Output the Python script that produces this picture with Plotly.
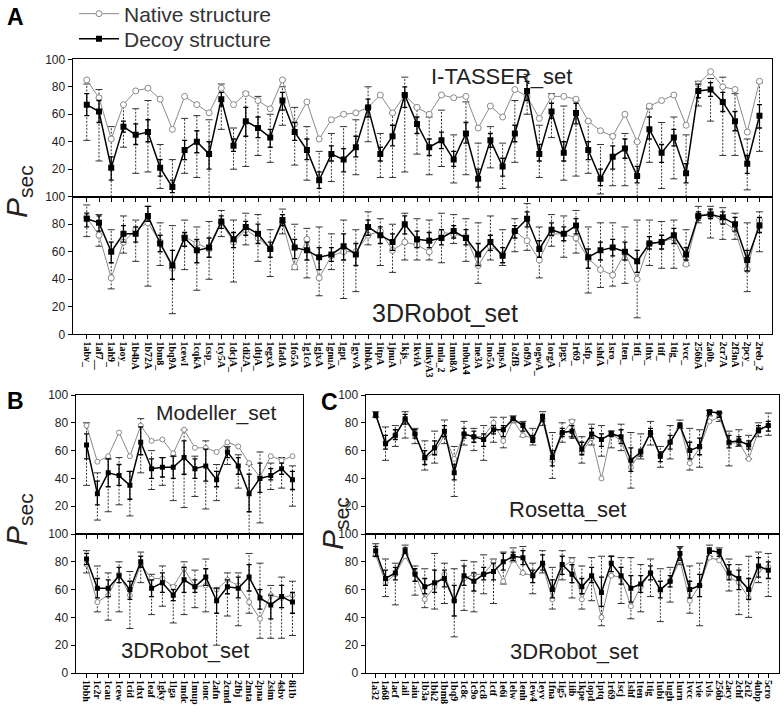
import plotly.graph_objects as go

W, H = 784, 712

# ---------------- panel A : I-TASSER / 3DRobot (56 proteins) ----------------
a_labels = ["1abv_", "1af7__", "1ah9_", "1aoy_", "1b4bA", "1b72A", "1bm8_", "1bq9A", "1cewI", "1cqkA",
            "1csp_", "1cy5A", "1dcjA_", "1di2A_", "1dtjA_", "1egxA", "1fadA", "1fo5A", "1g1cA", "1gjxA",
            "1gnuA", "1gpt_", "1gyvA", "1hbkA", "1itpA", "1jnuA", "1kjs_", "1kviA", "1mkyA3", "1mla_2",
            "1mn8A", "1n0uA4", "1ne3A", "1no5A", "1npsA", "1o2fB_", "1of9A", "1ogwA_", "1orgA", "1pgx_",
            "1r69_", "1sfp_", "1shfA", "1sro_", "1ten_", "1tfi_", "1thx_", "1tif_", "1tig_", "1vcc_",
            "256bA", "2a0b_", "2cr7A", "2f3nA", "2pcy_", "2reb_2"]

a_it_native = [85, 72, 42, 67, 77, 79, 71, 49, 73, 67, 61, 79, 67, 75, 70, 64, 85, 53, 69, 42,
               56, 60, 61, 65, 74, 61, 74, 65, 60, 74, 72, 73, 50, 66, 58, 78, 73, 57, 73, 73,
               71, 55, 48, 44, 60, 40, 66, 70, 74, 52, 82, 91, 80, 78, 47, 84]
a_it_decoy = [67, 62, 21, 51, 45, 47, 21, 7, 34, 40, 31, 71, 37, 55, 50, 43, 70, 47, 34, 12,
              31, 27, 36, 65, 31, 44, 74, 53, 36, 41, 27, 46, 13, 41, 22, 46, 77, 31, 62, 32,
              61, 34, 13, 29, 35, 15, 49, 32, 43, 17, 77, 78, 69, 55, 24, 59]
a_it_sd_lo = [59, 54, 12, 47, 38, 40, 15, 3, 27, 32, 20, 66, 33, 44, 43, 36, 63, 41, 27, 6,
              26, 18, 29, 58, 26, 37, 65, 46, 30, 35, 22, 39, 7, 36, 15, 40, 70, 26, 57, 26,
              53, 27, 8, 20, 28, 10, 42, 25, 37, 10, 72, 73, 62, 48, 17, 50]
a_it_sd_hi = [75, 70, 29, 55, 53, 56, 27, 12, 41, 48, 40, 76, 42, 65, 58, 49, 76, 54, 42, 18,
              37, 35, 44, 71, 36, 52, 80, 58, 42, 47, 33, 54, 20, 46, 28, 52, 84, 38, 68, 40,
              68, 40, 20, 37, 42, 22, 58, 38, 49, 24, 82, 83, 76, 62, 30, 67]
a_it_min = [41, 26, 0, 36, 17, 18, 6, 0, 17, 14, 0, 49, 20, 22, 30, 25, 52, 23, 12, 0,
            11, 0, 16, 40, 14, 14, 18, 31, 16, 22, 10, 16, 0, 21, 6, 25, 60, 14, 43, 12,
            15, 17, 2, 8, 8, 0, 25, 6, 13, 0, 66, 55, 30, 30, 5, 33]
a_it_max = [82, 78, 51, 67, 64, 70, 38, 27, 57, 59, 56, 82, 50, 76, 73, 60, 80, 65, 51, 33,
            46, 51, 56, 80, 46, 61, 87, 65, 58, 63, 45, 69, 39, 51, 39, 70, 89, 52, 75, 66,
            70, 55, 38, 45, 46, 40, 64, 54, 58, 45, 84, 86, 87, 75, 42, 83]

a_3d_native = [85, 72, 41, 67, 76, 81, 67, 48, 71, 66, 62, 81, 67, 76, 70, 62, 81, 49, 69, 41,
               57, 60, 60, 72, 75, 61, 67, 65, 60, 74, 73, 71, 50, 64, 58, 75, 68, 54, 73, 73,
               70, 55, 47, 43, 59, 40, 66, 67, 70, 51, 86, 88, 82, 76, 47, 83]
a_3d_decoy = [84, 81, 60, 73, 73, 86, 66, 50, 70, 61, 63, 82, 69, 78, 73, 62, 83, 63, 61, 56,
              58, 64, 58, 78, 72, 67, 80, 69, 68, 70, 75, 70, 58, 67, 57, 75, 84, 62, 76, 73,
              79, 56, 61, 63, 60, 53, 66, 67, 72, 58, 86, 87, 85, 80, 54, 79]
a_3d_sd_lo = [78, 75, 52, 67, 67, 82, 60, 40, 64, 52, 56, 77, 63, 72, 66, 56, 79, 55, 54, 47,
              53, 54, 50, 72, 66, 61, 73, 63, 63, 65, 70, 65, 50, 61, 52, 70, 78, 56, 72, 68,
              73, 48, 54, 57, 54, 45, 62, 62, 66, 54, 83, 84, 80, 75, 46, 74]
a_3d_sd_hi = [88, 86, 67, 79, 78, 93, 72, 61, 74, 69, 70, 86, 74, 82, 80, 67, 87, 69, 67, 63,
              63, 73, 66, 83, 78, 73, 86, 75, 74, 76, 79, 76, 66, 72, 63, 79, 89, 68, 81, 78,
              84, 62, 67, 69, 67, 61, 71, 72, 77, 63, 89, 91, 89, 85, 61, 85]
a_3d_min = [71, 64, 33, 59, 53, 35, 50, 15, 47, 32, 40, 71, 38, 65, 53, 42, 73, 47, 41, 28,
            47, 26, 31, 65, 50, 45, 54, 54, 54, 52, 66, 53, 37, 54, 50, 60, 61, 41, 64, 56,
            59, 30, 34, 35, 37, 12, 50, 48, 48, 50, 81, 70, 69, 69, 31, 60]
a_3d_max = [94, 87, 76, 86, 83, 93, 81, 79, 83, 78, 82, 90, 83, 88, 87, 76, 91, 80, 77, 78,
            73, 83, 76, 89, 84, 80, 88, 84, 83, 88, 87, 84, 81, 86, 76, 84, 95, 78, 87, 86,
            90, 78, 81, 81, 78, 83, 83, 82, 83, 76, 93, 93, 92, 88, 81, 89]

# ---------------- panel B : Modeller / 3DRobot (20 proteins) ----------------
b_labels = ["1bbh", "1c2r", "1cau", "1cew", "1cid", "1dxt", "1eaf", "1gky", "1lga", "1mdc",
            "1mup", "1onc", "2afn", "2cmd", "2fbj", "2mta", "2pna", "2sim", "4sbv", "8i1b"]

b_mo_native = [78, 52, 56, 73, 56, 78, 67, 68, 58, 75, 62, 62, 59, 66, 63, 51, 41, 56, 53, 56]
b_mo_decoy = [64, 29, 44, 42, 35, 66, 47, 48, 48, 55, 47, 49, 39, 59, 49, 29, 40, 42, 47, 39]
b_mo_sd_lo = [54, 21, 34, 35, 25, 57, 40, 41, 40, 43, 40, 38, 34, 55, 43, 16, 30, 39, 43, 32]
b_mo_sd_hi = [72, 38, 54, 50, 45, 77, 54, 55, 56, 67, 54, 61, 45, 62, 55, 43, 51, 47, 51, 45]
b_mo_min = [35, 10, 16, 21, 13, 44, 32, 35, 24, 19, 27, 18, 24, 50, 33, 0, 8, 32, 33, 20]
b_mo_max = [80, 44, 54, 55, 45, 83, 60, 55, 56, 75, 56, 67, 50, 63, 57, 50, 59, 51, 55, 49]

b_3d_native = [78, 51, 56, 71, 56, 78, 68, 68, 62, 75, 62, 63, 60, 67, 63, 51, 39, 56, 54, 56]
b_3d_decoy = [82, 61, 61, 70, 60, 80, 61, 65, 56, 67, 62, 69, 52, 62, 61, 69, 54, 49, 55, 51]
b_3d_sd_lo = [78, 54, 55, 65, 53, 76, 55, 58, 52, 58, 58, 63, 43, 57, 54, 59, 46, 39, 47, 43]
b_3d_sd_hi = [86, 68, 67, 76, 66, 84, 67, 72, 60, 76, 67, 75, 61, 67, 69, 78, 60, 56, 63, 58]
b_3d_min = [72, 44, 38, 44, 32, 65, 42, 48, 36, 42, 47, 44, 20, 41, 34, 43, 25, 25, 25, 27]
b_3d_max = [88, 77, 72, 80, 73, 87, 71, 77, 63, 80, 74, 82, 61, 72, 72, 86, 79, 63, 69, 66]

# ---------------- panel C : Rosetta / 3DRobot (41 proteins) ----------------
c_labels = ["1a32", "1a68", "1acf", "1ail", "1aiu", "1b3a", "1bk2", "1bm8", "1bq9", "1c8c",
            "1c9o", "1cc8", "1ctf", "1e6i", "1elw", "1enh", "1ew4", "1eyv", "1fna", "1ig5",
            "1iib", "1kpe", "1opd", "1ptq", "1r69", "1scj", "1shf", "1ten", "1tig", "1ubi",
            "1ugh", "1urn", "1vcc", "1vie", "1vls", "256b", "2acy", "2chf", "2ci2", "4ubp", "5cro"]

c_ro_native = [85, 66, 71, 82, 72, 54, 59, 71, 54, 72, 70, 70, 80, 67, 82, 71, 69, 82, 53, 72,
               81, 59, 69, 40, 72, 67, 48, 59, 72, 57, 66, 78, 51, 62, 81, 84, 65, 66, 54, 74, 78]
c_ro_decoy = [86, 65, 71, 83, 72, 55, 62, 74, 44, 72, 70, 68, 75, 75, 83, 78, 68, 84, 55, 73,
              74, 61, 72, 68, 72, 70, 53, 59, 73, 56, 66, 78, 60, 63, 88, 87, 66, 67, 64, 75, 78]
c_ro_sd_lo = [84, 61, 68, 79, 69, 50, 57, 70, 39, 69, 66, 63, 72, 70, 82, 74, 66, 81, 49, 70,
              69, 57, 69, 63, 70, 65, 45, 56, 70, 52, 61, 77, 54, 57, 86, 84, 62, 64, 61, 73, 74]
c_ro_sd_hi = [87, 71, 75, 86, 75, 60, 67, 78, 50, 76, 74, 72, 78, 78, 84, 80, 71, 86, 60, 76,
              78, 66, 76, 72, 74, 75, 62, 61, 76, 59, 71, 80, 66, 69, 89, 88, 71, 70, 67, 78, 81]
c_ro_min = [84, 53, 63, 69, 65, 46, 51, 65, 27, 64, 60, 53, 66, 62, 80, 70, 64, 78, 40, 66,
            70, 51, 64, 56, 62, 60, 33, 54, 64, 48, 54, 76, 46, 48, 85, 81, 49, 63, 54, 70, 71]
c_ro_max = [88, 77, 78, 88, 76, 67, 74, 82, 63, 81, 76, 78, 84, 84, 85, 81, 76, 88, 73, 80,
            82, 70, 79, 78, 74, 79, 73, 72, 81, 63, 78, 82, 76, 75, 89, 87, 74, 75, 71, 80, 87]

c_3d_native = [85, 65, 71, 84, 72, 53, 62, 71, 52, 68, 71, 71, 80, 66, 82, 72, 70, 78, 53, 76,
               81, 53, 68, 40, 70, 69, 48, 62, 72, 59, 66, 81, 52, 63, 83, 81, 69, 65, 54, 74, 76]
c_3d_decoy = [88, 68, 72, 88, 71, 62, 65, 68, 52, 70, 66, 71, 73, 80, 84, 83, 70, 79, 60, 78,
              71, 62, 70, 58, 79, 70, 61, 64, 72, 60, 66, 86, 60, 63, 88, 87, 72, 68, 60, 77, 74]
c_3d_sd_lo = [84, 63, 67, 86, 66, 57, 58, 62, 41, 63, 59, 67, 67, 74, 81, 78, 65, 74, 54, 71,
              65, 57, 65, 48, 73, 64, 51, 58, 67, 54, 62, 81, 54, 55, 86, 84, 67, 60, 53, 69, 68]
c_3d_sd_hi = [91, 74, 76, 90, 75, 68, 74, 74, 63, 77, 72, 76, 79, 86, 87, 88, 74, 85, 67, 84,
              78, 68, 76, 69, 84, 76, 70, 70, 77, 66, 70, 90, 66, 71, 90, 89, 78, 74, 68, 83, 80]
c_3d_min = [84, 55, 49, 85, 56, 47, 46, 50, 26, 45, 44, 57, 50, 64, 80, 71, 57, 72, 46, 67,
            54, 46, 52, 34, 70, 50, 39, 44, 55, 37, 51, 78, 43, 34, 84, 82, 59, 42, 40, 65, 55]
c_3d_max = [93, 82, 79, 92, 77, 75, 86, 79, 75, 81, 80, 85, 82, 87, 90, 91, 79, 88, 76, 88,
            83, 77, 83, 84, 84, 83, 83, 78, 82, 75, 76, 91, 77, 79, 92, 90, 82, 78, 84, 87, 86]


def px(x):
    return x / W


def py(y):
    return 1 - y / H


SANS = "Liberation Sans, Arial, sans-serif"
SERIF = "Liberation Serif, Times New Roman, serif"
GREY = "#8a8a8a"


def add_set(fig, xa, ya, native, decoy, sd_lo, sd_hi, vmin, vmax, msize=6, legend=False):
    idx = list(range(len(decoy)))
    # dotted min-max whiskers
    xs, ys = [], []
    for i in idx:
        xs += [i, i, None]
        ys += [vmin[i], vmax[i], None]
    fig.add_trace(go.Scatter(x=xs, y=ys, mode="lines", xaxis=xa, yaxis=ya,
                             line=dict(color="#333", width=1, dash="2px,1.5px"),
                             showlegend=False, hoverinfo="skip"))
    fig.add_trace(go.Scatter(x=idx + idx, y=vmin + vmax, mode="markers", xaxis=xa, yaxis=ya,
                             marker=dict(symbol="line-ew", size=5, line=dict(color="#333", width=1)),
                             showlegend=False, hoverinfo="skip"))
    fig.add_trace(go.Scatter(x=idx, y=native, name="Native structure", mode="lines+markers",
                             xaxis=xa, yaxis=ya, line=dict(color=GREY, width=1),
                             marker=dict(symbol="circle", size=msize, color="white",
                                         line=dict(color=GREY, width=1)),
                             showlegend=legend, legend="legend"))
    fig.add_trace(go.Scatter(x=idx, y=decoy, name="Decoy structure", mode="lines+markers",
                             xaxis=xa, yaxis=ya, line=dict(color="black", width=1.5),
                             marker=dict(symbol="square", size=msize, color="black"),
                             error_y=dict(type="data", symmetric=False,
                                          array=[h - d for h, d in zip(sd_hi, decoy)],
                                          arrayminus=[d - l for d, l in zip(decoy, sd_lo)],
                                          color="black", thickness=1.3, width=2.5),
                             showlegend=legend, legend="legend2"))


fig = go.Figure()
add_set(fig, "x", "y", a_it_native, a_it_decoy, a_it_sd_lo, a_it_sd_hi, a_it_min, a_it_max, 6, True)
add_set(fig, "x2", "y2", a_3d_native, a_3d_decoy, a_3d_sd_lo, a_3d_sd_hi, a_3d_min, a_3d_max, 6)
add_set(fig, "x3", "y3", b_mo_native, b_mo_decoy, b_mo_sd_lo, b_mo_sd_hi, b_mo_min, b_mo_max, 5)
add_set(fig, "x4", "y4", b_3d_native, b_3d_decoy, b_3d_sd_lo, b_3d_sd_hi, b_3d_min, b_3d_max, 5)
add_set(fig, "x5", "y5", c_ro_native, c_ro_decoy, c_ro_sd_lo, c_ro_sd_hi, c_ro_min, c_ro_max, 5)
add_set(fig, "x6", "y6", c_3d_native, c_3d_decoy, c_3d_sd_lo, c_3d_sd_hi, c_3d_min, c_3d_max, 5)


def xax(domain, anchor, labels, xr, show):
    d = dict(domain=domain, anchor=anchor, range=xr, tickvals=list(range(len(labels))),
             ticks="outside", ticklen=4, tickcolor="black", showline=True, linecolor="black",
             linewidth=1.2, mirror=True, showgrid=False, zeroline=False, showticklabels=show,
             automargin=False)
    if show:
        d.update(ticktext=labels, tickangle=90,
                 tickfont=dict(family=SERIF, size=10, color="black", weight="bold"))
    return d


def yax(domain, anchor, tv):
    return dict(domain=domain, anchor=anchor, range=[0, 100], tickvals=tv,
                ticks="outside", ticklen=4, tickcolor="black", showline=True, linecolor="black",
                linewidth=1.2, mirror=True, showgrid=False, zeroline=False, automargin=False,
                tickfont=dict(family=SANS, size=12, color="#222"))


top_t = [20, 40, 60, 80, 100]
bot_t = [0, 20, 40, 60, 80, 100]
ax_a = [px(72.7), px(771.7)]
ax_b = [px(75.7), px(303.3)]
ax_c = [px(365.7), px(778.7)]

leg_style = dict(xanchor="left", yanchor="middle", bgcolor="rgba(0,0,0,0)",
                 font=dict(family=SANS, size=21, color="#333"), itemwidth=40)

fig.update_layout(
    template="none",
    width=W, height=H, autosize=False,
    margin=dict(l=0, r=0, t=0, b=0, pad=0, autoexpand=False),
    paper_bgcolor="white", plot_bgcolor="white",
    xaxis=xax(ax_a, "y", a_labels, [-1.15, 56.0], False),
    yaxis=yax([py(196.7), py(59.3)], "x", top_t),
    xaxis2=xax(ax_a, "y2", a_labels, [-1.15, 56.0], True),
    yaxis2=yax([py(334.3), py(196.7)], "x2", bot_t),
    xaxis3=xax(ax_b, "y3", b_labels, [-1.0, 20.0], False),
    yaxis3=yax([py(534), py(395)], "x3", top_t),
    xaxis4=xax(ax_b, "y4", b_labels, [-1.0, 20.0], True),
    yaxis4=yax([py(673), py(534)], "x4", bot_t),
    xaxis5=xax(ax_c, "y5", c_labels, [-1.02, 41.06], False),
    yaxis5=yax([py(534), py(395)], "x5", top_t),
    xaxis6=xax(ax_c, "y6", c_labels, [-1.02, 41.06], True),
    yaxis6=yax([py(673), py(534)], "x6", bot_t),
    legend=dict(x=px(74), y=py(14), **leg_style),
    legend2=dict(x=px(74), y=py(39), **leg_style),
    showlegend=True,
)


def note(txt, x, y, size, color="#222", bold=False, angle=0):
    fig.add_annotation(text=txt, x=px(x), y=py(y), xref="paper", yref="paper", showarrow=False,
                       xanchor="center", yanchor="middle", textangle=angle,
                       font=dict(family=SANS, size=size, color=color,
                                 weight="bold" if bold else "normal"))


# panel letters
note("A", 16, 17, 23, "black", True)
note("B", 16, 401, 23, "black", True)
note("C", 329, 402, 23, "black", True)

# data-set names
note("I-TASSER_set", 502, 76, 22)
note("3DRobot_set", 445, 313, 25)
note("Modeller_set", 216, 413, 21)
note("3DRobot_set", 185, 650, 22)
note("Rosetta_set", 567, 509, 22)
note("3DRobot_set", 574, 651, 22)

# y titles
for x, y in [(18, 192), (18, 520), (334, 524)]:
    note("<i>P</i><sub>sec</sub>", x, y, 30, angle=-90)

# the page body has a default 8px margin; drop it so the figure sits at the corner
fig.write_html("out.html", config={"displayModeBar": False},
               post_script="document.body.style.margin='0px';")
